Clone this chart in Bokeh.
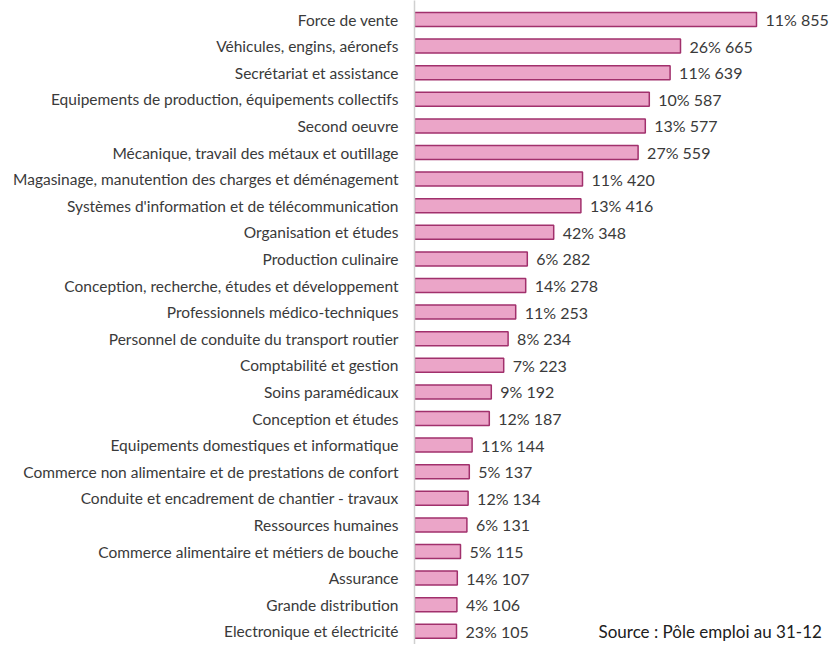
from bokeh.plotting import figure
from bokeh.models import ColumnDataSource, Range1d, FixedTicker, Label
from bokeh.core.properties import value
from bokeh.embed import file_html
from bokeh.resources import INLINE

categories = [
    "Force de vente",
    "Véhicules, engins, aéronefs",
    "Secrétariat et assistance",
    "Equipements de production, équipements collectifs",
    "Second oeuvre",
    "Mécanique, travail des métaux et outillage",
    "Magasinage, manutention des charges et déménagement",
    "Systèmes d'information et de télécommunication",
    "Organisation et études",
    "Production culinaire",
    "Conception, recherche, études et développement",
    "Professionnels médico-techniques",
    "Personnel de conduite du transport routier",
    "Comptabilité et gestion",
    "Soins paramédicaux",
    "Conception et études",
    "Equipements domestiques et informatique",
    "Commerce non alimentaire et de prestations de confort",
    "Conduite et encadrement de chantier - travaux",
    "Ressources humaines",
    "Commerce alimentaire et métiers de bouche",
    "Assurance",
    "Grande distribution",
    "Electronique et électricité",
]
values = [855, 665, 639, 587, 577, 559, 420, 416, 348, 282, 278, 253, 234,
          223, 192, 187, 144, 137, 134, 131, 115, 107, 106, 105]
percents = [11, 26, 11, 10, 13, 27, 11, 13, 42, 6, 14, 11, 8, 7, 9, 12, 11,
            5, 12, 6, 5, 14, 4, 23]
source_text = "Source :  Pôle emploi au 31-12"

FONT = "Lato"
TXT = "#3A3A3A"

pos = list(range(len(categories)))
labels = [f"{p}% {v}" for p, v in zip(percents, values)]
src = ColumnDataSource(dict(y=pos, v=values, lab=labels))

step = 26.6
ymin = -19.0 / step
ymax = ymin + 644.0 / step

p = figure(width=829, height=644, output_backend="svg", toolbar_location=None,
           x_range=Range1d(0, 1037.5), y_range=Range1d(ymax, ymin),
           min_border_left=414, min_border_right=0, min_border_top=0,
           min_border_bottom=0)
p.outline_line_color = None
p.xgrid.visible = False
p.ygrid.visible = False
p.xaxis.visible = False

p.hbar(y="y", right="v", left=0, height=14.0 / step, source=src,
       fill_color="#EBA5C8", line_color="#A1306C", line_width=1.5)

p.text(x="v", y="y", text="lab", source=src, x_offset=9,
       text_baseline="middle", text_align="left", text_font=value(FONT),
       text_font_size="16px", text_color=TXT)

ya = p.yaxis[0]
ya.ticker = FixedTicker(ticks=pos)
ya.major_label_overrides = {i: c for i, c in zip(pos, categories)}
ya.major_tick_line_color = None
ya.minor_tick_line_color = None
ya.axis_line_color = "#D0D0D0"
ya.axis_line_width = 1.5
ya.major_label_text_font = FONT
ya.major_label_text_font_size = "15.5px"
ya.major_label_text_color = TXT
ya.major_label_standoff = 10

p.add_layout(Label(x=(598 - 414) / 0.4, y=23, text=source_text,
                   text_font=FONT, text_font_size="17px",
                   text_color="#202020", text_baseline="middle",
                   text_align="left"))

open("out.html", "w").write(file_html(p, INLINE))
